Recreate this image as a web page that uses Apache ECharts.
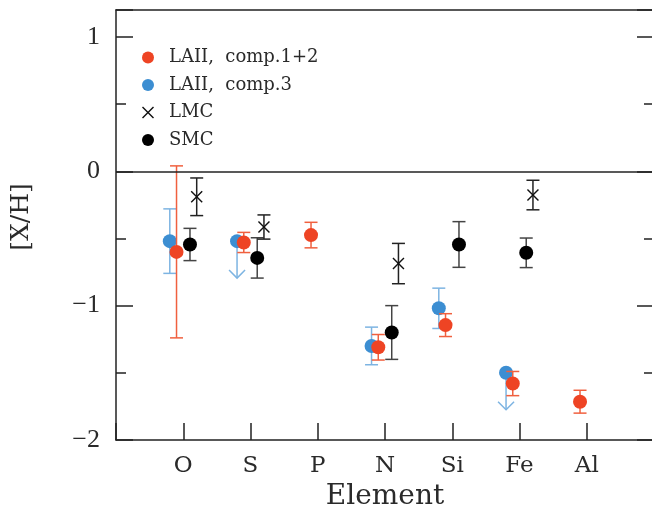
<!DOCTYPE html>
<html>
<head>
<meta charset="utf-8">
<script src="https://cdn.jsdelivr.net/npm/echarts@6/dist/echarts.min.js"></script>
<style>html,body{margin:0;padding:0;background:#fff;}#c{width:652px;height:512px;}</style>
</head>
<body>
<div id="c"></div>
<script>
// ---- data ----
const elements = ['O', 'S', 'P', 'N', 'Si', 'Fe', 'Al'];
const yTicks = [-2, -1, 0, 1];
// LAII comp.1+2 : [element, value, error]
const compA = [['O', -0.60, 0.64], ['S', -0.53, 0.075], ['P', -0.475, 0.095], ['N', -1.31, 0.095], ['Si', -1.145, 0.085], ['Fe', -1.58, 0.09], ['Al', -1.715, 0.085]];
// LAII comp.3 : [element, value, error]  (error null = upper limit)
const compB = [['O', -0.52, 0.24], ['S', -0.52, null], ['N', -1.30, 0.14], ['Si', -1.02, 0.15], ['Fe', -1.50, null]];
// LMC
const lmc = [['O', -0.19, 0.14], ['S', -0.415, 0.09], ['N', -0.687, 0.15], ['Fe', -0.177, 0.11]];
// SMC
const smc = [['O', -0.545, 0.12], ['S', -0.645, 0.15], ['N', -1.20, 0.20], ['Si', -0.545, 0.17], ['Fe', -0.607, 0.11]];
const limitLength = 0.275;

// horizontal offsets of each group around the element position
const offA = -0.1, offB = -0.2, offLMC = 0.2, offSMC = 0.1;
const xOf = (el, off) => elements.indexOf(el) + 1 + off;

const pts = (arr, off) => arr.map(d => [xOf(d[0], off), d[1]]);
const errs = (arr, off) => arr.filter(d => d[2] != null).map(d => [xOf(d[0], off), d[1] - d[2], d[1] + d[2]]);
const lims = (arr, off) => arr.filter(d => d[2] == null).map(d => [xOf(d[0], off), d[1], d[1] - limitLength]);

function errRender(color) {
  return function (params, api) {
    const x = api.value(0);
    const a = api.coord([x, api.value(2)]);
    const b = api.coord([x, api.value(1)]);
    const h = 6.5;
    const st = { stroke: color, lineWidth: 1.5 };
    return { type: 'group', children: [
      { type: 'line', shape: { x1: a[0], y1: a[1], x2: b[0], y2: b[1] }, style: st },
      { type: 'line', shape: { x1: a[0] - h, y1: a[1], x2: a[0] + h, y2: a[1] }, style: st },
      { type: 'line', shape: { x1: b[0] - h, y1: b[1], x2: b[0] + h, y2: b[1] }, style: st }
    ]};
  };
}
function limRender(color) {
  return function (params, api) {
    const x = api.value(0);
    const a = api.coord([x, api.value(1)]);
    const b = api.coord([x, api.value(2)]);
    const st = { stroke: color, lineWidth: 1.5, fill: null };
    return { type: 'group', children: [
      { type: 'line', shape: { x1: a[0], y1: a[1], x2: b[0], y2: b[1] }, style: st },
      { type: 'polyline', shape: { points: [[b[0] - 8, b[1] - 8], [b[0], b[1]], [b[0] + 8, b[1] - 8]] }, style: st }
    ]};
  };
}

const RED = '#ee4424', BLUE = '#3c8ed2', BLACK = '#000';
const RED_BAR = '#f0603f', BLUE_BAR = '#7db4e2', SMC_BAR = '#444', LMC_BAR = '#222';
const crossPath = 'path://M0,1 L1,0 L6,5 L11,0 L12,1 L7,6 L12,11 L11,12 L6,7 L1,12 L0,11 L5,6 Z';
const serif = '"DejaVu Serif", serif';
const TXT = '#2a2a2a';
const axisLine = { show: true, onZero: false, lineStyle: { color: '#222', width: 1.5 } };
const majorTick = { inside: true, length: 17, lineStyle: { color: '#222', width: 1.5 } };
const minorTick = { show: true, splitNumber: 2, length: 10, lineStyle: { color: '#222', width: 1.5 } };

const chart = echarts.init(document.getElementById('c'), null, { renderer: 'canvas' });
chart.setOption({
  animation: false,
  backgroundColor: '#fff',
  grid: { left: 116, top: 10, width: 538, height: 430, containLabel: false, outerBoundsMode: 'none' },
  legend: {
    orient: 'vertical', left: 137, top: 43.5, itemWidth: 32, itemHeight: 12, itemGap: 9.5,
    textStyle: { fontFamily: serif, fontSize: 18, color: TXT },
    data: ['LAII,  comp.1+2', 'LAII,  comp.3', 'LMC', 'SMC']
  },
  xAxis: [
    { type: 'value', min: 0, max: 8, interval: 1, position: 'bottom',
      name: 'Element', nameLocation: 'middle', nameGap: 38,
      nameTextStyle: { fontFamily: serif, fontSize: 28, color: TXT },
      axisLine: axisLine, splitLine: { show: false }, axisTick: majorTick,
      axisLabel: { margin: 15, fontFamily: serif, fontSize: 23, color: TXT,
        formatter: v => elements[v - 1] || '' } },
    { type: 'value', min: 0, max: 8, interval: 1, position: 'top', axisLine: axisLine,
      axisTick: { show: false }, axisLabel: { show: false }, splitLine: { show: false } }
  ],
  yAxis: [
    { type: 'value', min: -2, max: 1.2, interval: 1, position: 'left',
      name: '[X/H]', nameLocation: 'middle', nameRotate: 90, nameGap: 82,
      nameTextStyle: { fontFamily: serif, fontSize: 25, color: TXT, padding: [0, 0, 0, 16] },
      axisLine: axisLine, splitLine: { show: false }, axisTick: majorTick, minorTick: minorTick,
      axisLabel: { margin: 16, fontFamily: '"Liberation Serif", serif', fontSize: 26, color: TXT,
        formatter: v => yTicks.indexOf(v) >= 0 ? String(v).replace('-', '\u2212') : '' } },
    { type: 'value', min: -2, max: 1.2, interval: 1, position: 'right',
      axisLine: axisLine, splitLine: { show: false }, axisLabel: { show: false },
      axisTick: majorTick, minorTick: minorTick }
  ],
  series: [
    { type: 'custom', silent: true, renderItem: errRender(BLUE_BAR), data: errs(compB, offB), z: 2,
      markLine: { silent: true, symbol: 'none', label: { show: false },
        lineStyle: { color: '#222', width: 1.5, type: 'solid' }, data: [{ yAxis: 0 }] } },
    { type: 'custom', silent: true, renderItem: limRender(BLUE_BAR), data: lims(compB, offB), z: 2 },
    { name: 'LAII,  comp.3', type: 'scatter', symbol: 'circle', symbolSize: 14,
      itemStyle: { color: BLUE, opacity: 1 }, data: pts(compB, offB), z: 3 },
    { type: 'custom', silent: true, renderItem: errRender(RED_BAR), data: errs(compA, offA), z: 4 },
    { name: 'LAII,  comp.1+2', type: 'scatter', symbol: 'circle', symbolSize: 14,
      itemStyle: { color: RED, opacity: 1 }, data: pts(compA, offA), z: 5 },
    { type: 'custom', silent: true, renderItem: errRender(SMC_BAR), data: errs(smc, offSMC), z: 4 },
    { name: 'SMC', type: 'scatter', symbol: 'circle', symbolSize: 14,
      itemStyle: { color: BLACK, opacity: 1 }, data: pts(smc, offSMC), z: 5 },
    { type: 'custom', silent: true, renderItem: errRender(LMC_BAR), data: errs(lmc, offLMC), z: 4 },
    { name: 'LMC', type: 'scatter', symbol: crossPath, symbolSize: 12,
      itemStyle: { color: '#111', opacity: 1 }, data: pts(lmc, offLMC), z: 5 }
  ]
});
</script>
</body>
</html>
